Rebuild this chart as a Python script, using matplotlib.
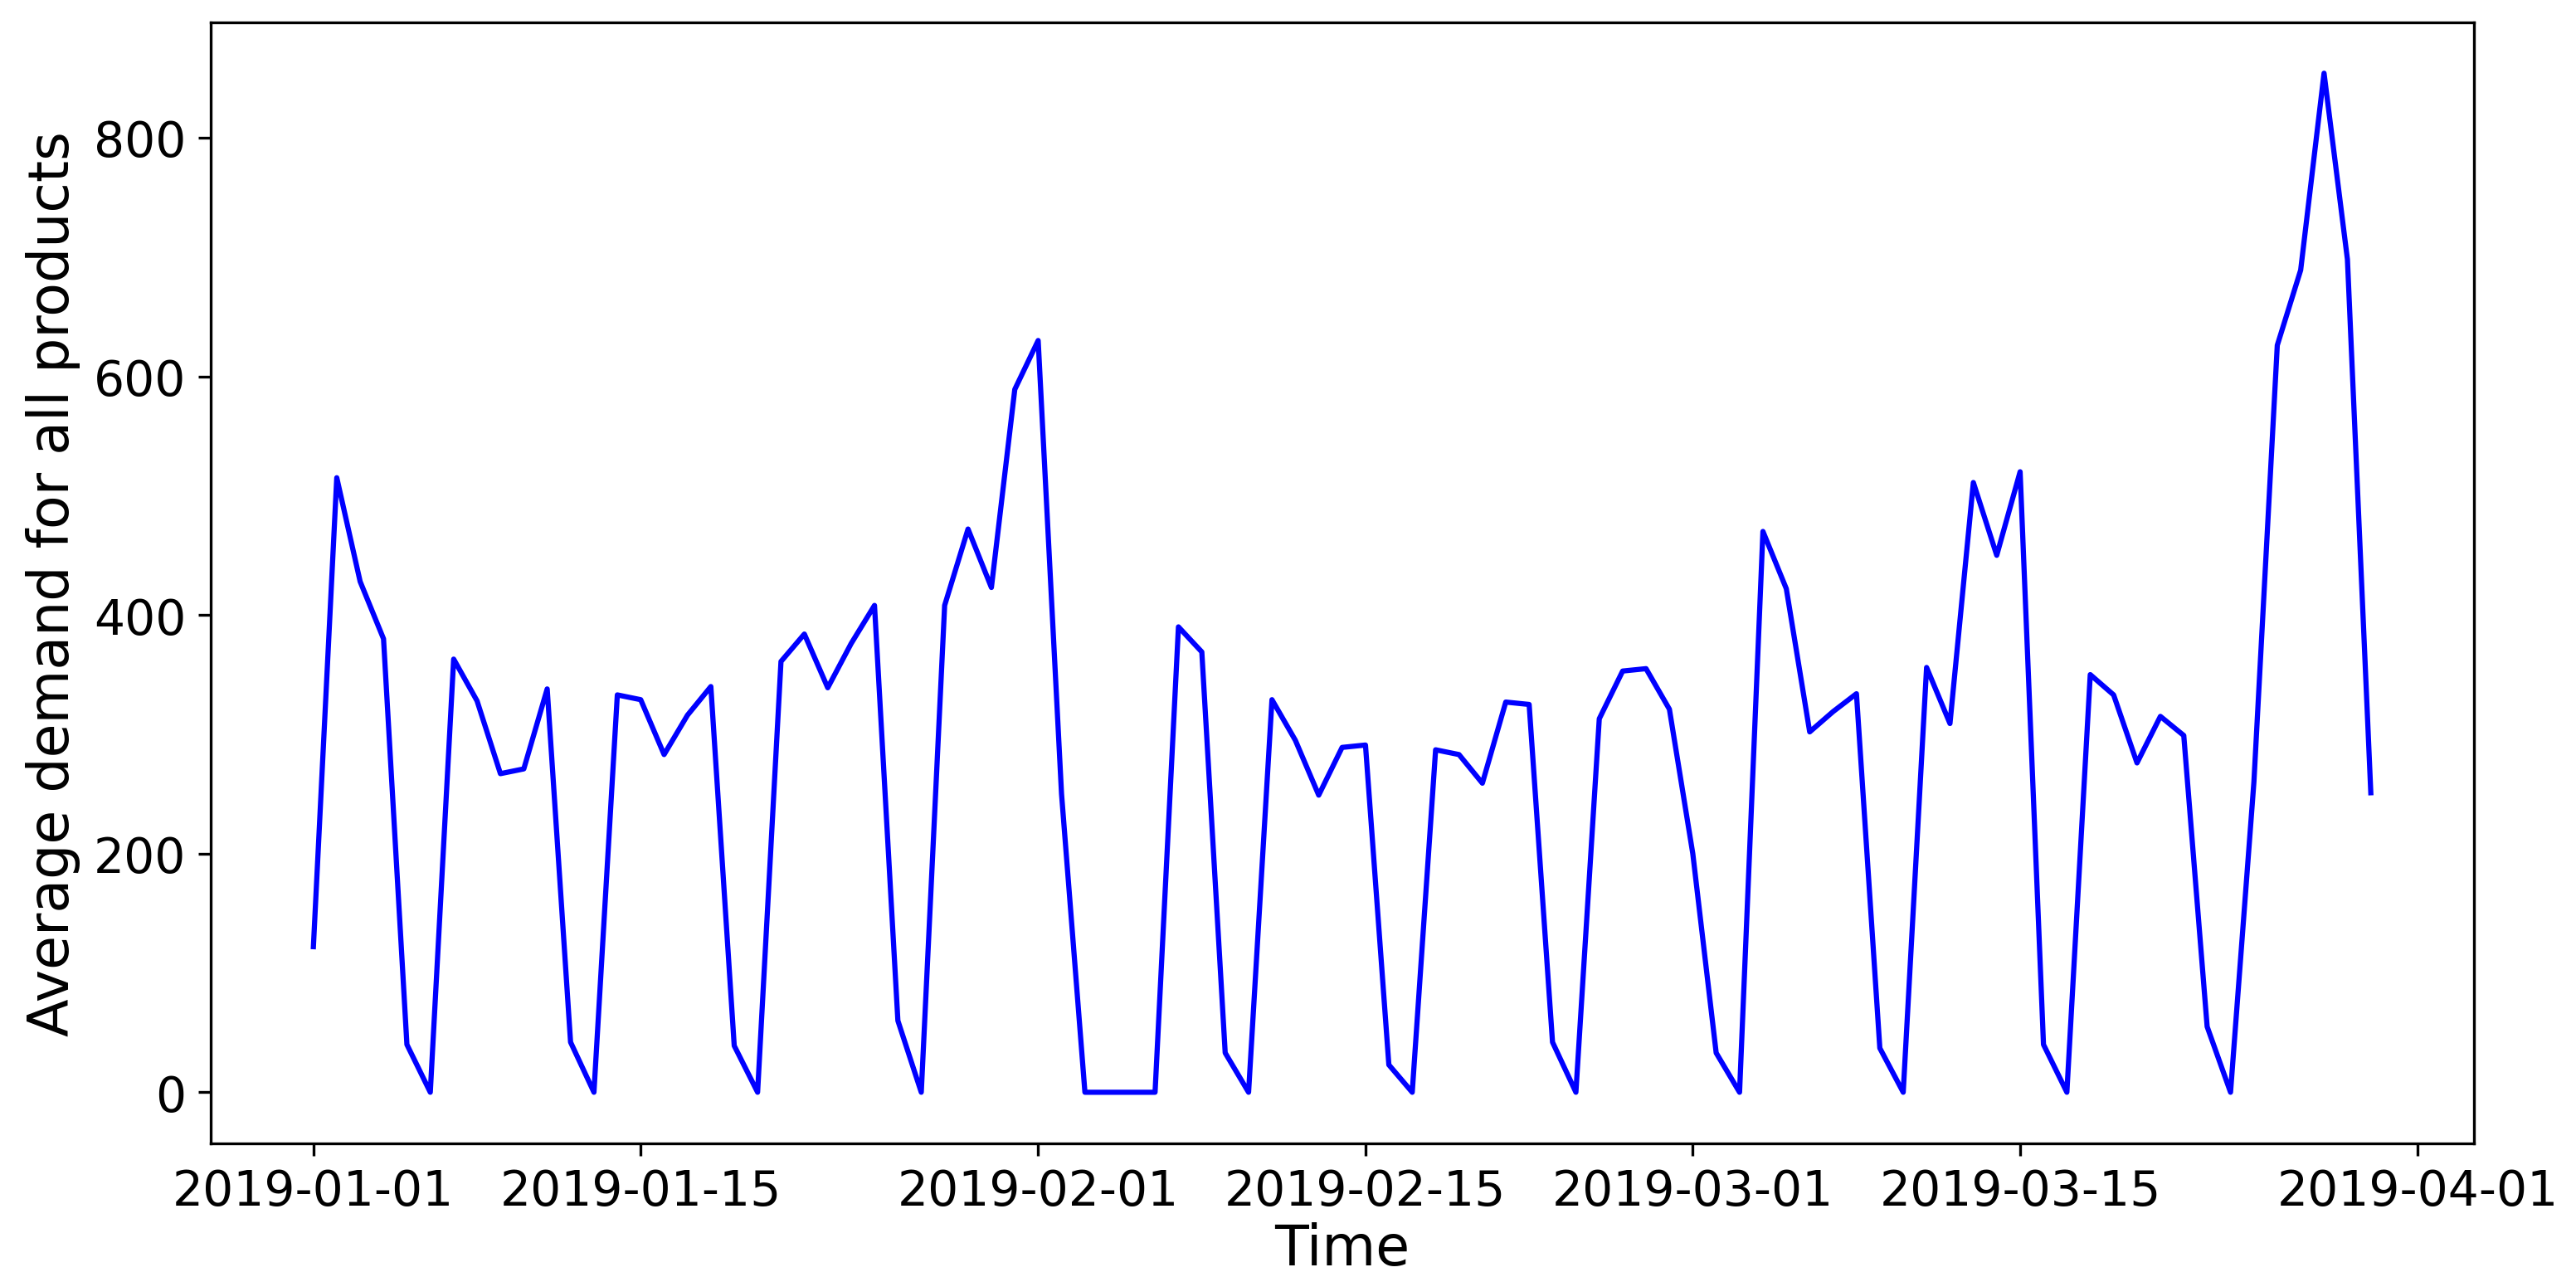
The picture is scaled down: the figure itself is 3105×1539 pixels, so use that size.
import numpy as np
import pandas as pd
import matplotlib
matplotlib.use('Agg')
import matplotlib.pyplot as plt

# Daily average demand, 2019-01-01 .. 2019-03-30
start_date = '2019-01-01'
demand = [122, 515, 428, 380, 40, 0, 363, 328, 267, 271, 338, 42, 0,
          333, 329, 283, 316, 340, 39, 0, 361, 384, 339, 376, 408, 60, 0,
          408, 472, 423, 589, 630, 250, 0, 0, 0, 0, 390, 369, 33, 0,
          329, 295, 249, 289, 291, 23, 0, 287, 283, 259, 327, 325, 42, 0,
          313, 353, 355, 321, 200, 33, 0, 470, 422, 302, 319, 334, 37, 0,
          356, 309, 511, 450, 520, 40, 0, 350, 333, 276, 315, 299, 55, 0,
          260, 626, 689, 854, 698, 251]

fechas = pd.date_range(start_date, periods=len(demand), freq='D')

fig, ax = plt.subplots(figsize=(10.353, 5.133), dpi=300)
fig.subplots_adjust(left=0.0817, right=0.960, top=0.982, bottom=0.1047)

ax.plot(fechas, demand, color='blue', linewidth=1.5)
ax.set_xlabel('Time', fontsize=16, labelpad=2)
ax.set_ylabel('Average demand for all products', fontsize=16)
ax.tick_params(axis='both', labelsize=14)

fig.savefig('out.png', dpi=300)
